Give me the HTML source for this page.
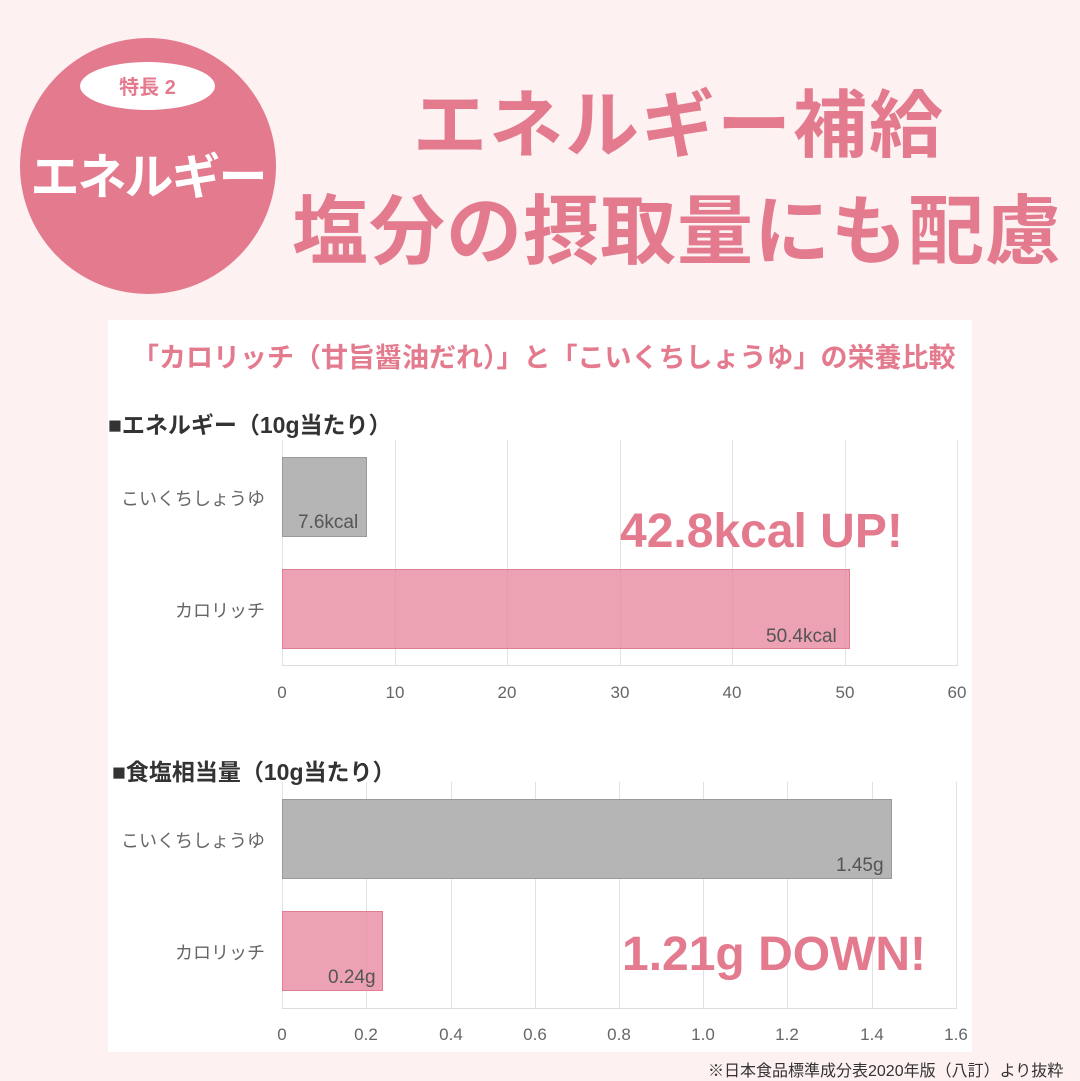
<!DOCTYPE html>
<html><head><meta charset="utf-8"><style>
*{margin:0;padding:0;box-sizing:border-box}
body{width:1080px;height:1080px;background:#fdf1f1;position:relative;overflow:hidden;font-family:"Liberation Sans","Noto Sans CJK JP",sans-serif}
.a{position:absolute;white-space:nowrap}
.g{position:absolute;width:1px;background:#e2e2e2}
.t{position:absolute;font-size:17px;color:#666;transform:translateX(-50%)}
.lab{position:absolute;font-size:18px;color:#666;text-align:right;width:160px}
.h{font-weight:bold;color:#e37a8e}
</style></head><body>
<div class="a" style="left:20px;top:38px;width:256px;height:256px;border-radius:50%;background:#e37a8e"></div>
<div class="a" style="left:80px;top:62px;width:135px;height:48px;border-radius:50%;background:#fff"></div>
<div class="a h" style="left:80px;top:71px;width:135px;text-align:center;font-size:20px;color:#e37a8e">特長 2</div>
<div class="a" style="left:18px;top:138px;width:260px;text-align:center;font-size:49px;font-weight:bold;color:#fff;letter-spacing:-2px">エネルギー</div>
<div class="a h" style="left:413px;top:66px;font-size:74px;letter-spacing:2px">エネルギー補給</div>
<div class="a h" style="left:292px;top:170px;font-size:76px;letter-spacing:1px">塩分の摂取量にも配慮</div>

<div class="a" style="left:108px;top:320px;width:864px;height:732px;background:#fff"></div>
<div class="a h" style="left:132px;top:336px;font-size:27px">「カロリッチ（甘旨醤油だれ）」と「こいくちしょうゆ」の栄養比較</div>
<div class="a" style="left:108px;top:406px;font-size:23px;font-weight:bold;color:#333">■エネルギー（10g当たり）</div>

<!-- chart 1 -->
<div class="g" style="left:282px;top:440px;height:225px"></div>
<div class="g" style="left:395px;top:440px;height:225px"></div>
<div class="g" style="left:507px;top:440px;height:225px"></div>
<div class="g" style="left:620px;top:440px;height:225px"></div>
<div class="g" style="left:732px;top:440px;height:225px"></div>
<div class="g" style="left:845px;top:440px;height:225px"></div>
<div class="g" style="left:957px;top:440px;height:225px"></div>
<div class="a" style="left:282px;top:665px;width:676px;height:1px;background:#ddd"></div>
<div class="a" style="left:282px;top:457px;width:85px;height:80px;background:#b5b5b5;border:1px solid #999"></div>
<div class="a" style="left:282px;top:569px;width:568px;height:80px;background:rgba(231,136,157,.78);border:1px solid #e07d92"></div>
<div class="a" style="left:298px;top:512px;font-size:19px;color:#555">7.6kcal</div>
<div class="a" style="left:766px;top:626px;font-size:19px;color:#555">50.4kcal</div>
<div class="lab" style="left:105px;top:485px">こいくちしょうゆ</div>
<div class="lab" style="left:105px;top:597px">カロリッチ</div>
<div class="t" style="left:282px;top:683px">0</div><div class="t" style="left:395px;top:683px">10</div><div class="t" style="left:507px;top:683px">20</div><div class="t" style="left:620px;top:683px">30</div><div class="t" style="left:732px;top:683px">40</div><div class="t" style="left:845px;top:683px">50</div><div class="t" style="left:957px;top:683px">60</div>
<div class="a h" style="left:620px;top:504px;font-size:48px">42.8kcal UP!</div>

<div class="a" style="left:112px;top:753px;font-size:23px;font-weight:bold;color:#333">■食塩相当量（10g当たり）</div>
<!-- chart 2 -->
<div class="g" style="left:282px;top:782px;height:226px"></div>
<div class="g" style="left:366px;top:782px;height:226px"></div>
<div class="g" style="left:451px;top:782px;height:226px"></div>
<div class="g" style="left:535px;top:782px;height:226px"></div>
<div class="g" style="left:619px;top:782px;height:226px"></div>
<div class="g" style="left:703px;top:782px;height:226px"></div>
<div class="g" style="left:787px;top:782px;height:226px"></div>
<div class="g" style="left:872px;top:782px;height:226px"></div>
<div class="g" style="left:956px;top:782px;height:226px"></div>
<div class="a" style="left:282px;top:1008px;width:675px;height:1px;background:#ddd"></div>
<div class="a" style="left:282px;top:799px;width:610px;height:80px;background:#b5b5b5;border:1px solid #999"></div>
<div class="a" style="left:282px;top:911px;width:101px;height:80px;background:rgba(231,136,157,.78);border:1px solid #e07d92"></div>
<div class="a" style="left:836px;top:855px;font-size:19px;color:#555">1.45g</div>
<div class="a" style="left:328px;top:967px;font-size:19px;color:#555">0.24g</div>
<div class="lab" style="left:105px;top:827px">こいくちしょうゆ</div>
<div class="lab" style="left:105px;top:939px">カロリッチ</div>
<div class="t" style="left:282px;top:1025px">0</div><div class="t" style="left:366px;top:1025px">0.2</div><div class="t" style="left:451px;top:1025px">0.4</div><div class="t" style="left:535px;top:1025px">0.6</div><div class="t" style="left:619px;top:1025px">0.8</div><div class="t" style="left:703px;top:1025px">1.0</div><div class="t" style="left:787px;top:1025px">1.2</div><div class="t" style="left:872px;top:1025px">1.4</div><div class="t" style="left:956px;top:1025px">1.6</div>
<div class="a h" style="left:622px;top:927px;font-size:48px">1.21g DOWN!</div>

<div class="a" style="left:708px;top:1057px;font-size:16px;color:#333">※日本食品標準成分表2020年版（八訂）より抜粋</div>
</body></html>
